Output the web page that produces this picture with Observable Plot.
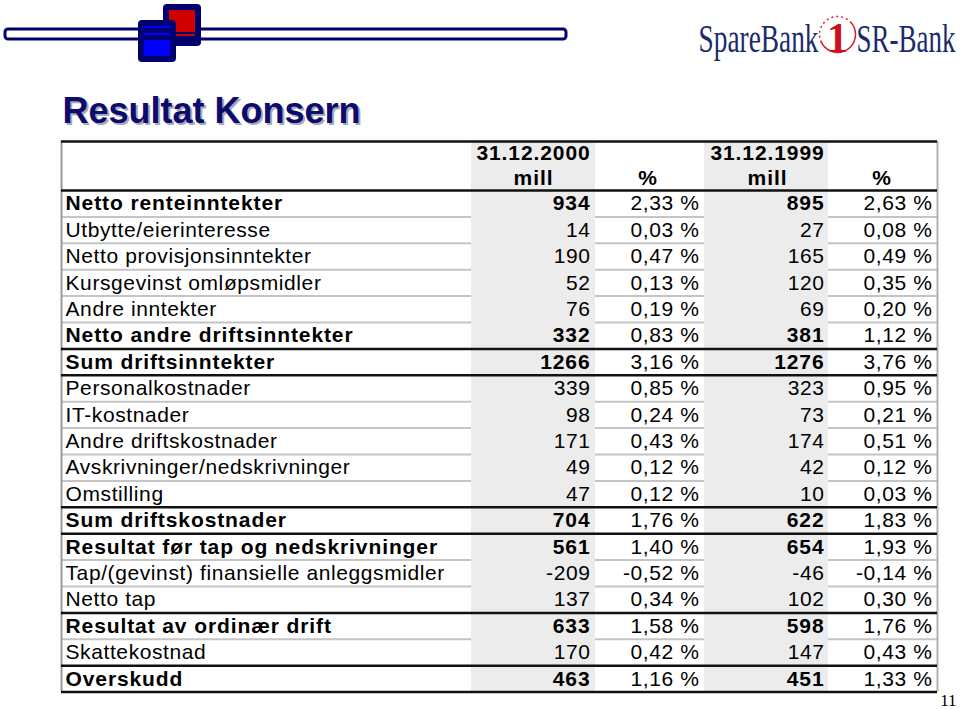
<!DOCTYPE html>
<html><head><meta charset="utf-8">
<script src="https://cdn.jsdelivr.net/npm/d3@7"></script>
<script src="https://cdn.jsdelivr.net/npm/@observablehq/plot@0.6"></script>
<style>
body{margin:0;background:#fff} svg{display:block}
#chart g[font-size="21"] text{letter-spacing:0.6px}
#chart g[font-size="21"][font-weight="bold"] text{letter-spacing:0.9px}
</style>
</head><body><div id="chart"></div>
<script>
// ---- data ----
const title = "Resultat Konsern";
const periods = ["31.12.2000", "31.12.1999"];
const unitMill = "mill";
const unitPct = "%";
const labels = [
  "Netto renteinntekter", "Utbytte/eierinteresse", "Netto provisjonsinntekter",
  "Kursgevinst omløpsmidler", "Andre inntekter", "Netto andre driftsinntekter",
  "Sum driftsinntekter", "Personalkostnader", "IT-kostnader", "Andre driftskostnader",
  "Avskrivninger/nedskrivninger", "Omstilling", "Sum driftskostnader",
  "Resultat før tap og nedskrivninger", "Tap/(gevinst) finansielle anleggsmidler",
  "Netto tap", "Resultat av ordinær drift", "Skattekostnad", "Overskudd"
];
const mill2000 = [934, 14, 190, 52, 76, 332, 1266, 339, 98, 171, 49, 47, 704, 561, -209, 137, 633, 170, 463];
const pct2000  = [2.33, 0.03, 0.47, 0.13, 0.19, 0.83, 3.16, 0.85, 0.24, 0.43, 0.12, 0.12, 1.76, 1.40, -0.52, 0.34, 1.58, 0.42, 1.16];
const mill1999 = [895, 27, 165, 120, 69, 381, 1276, 323, 73, 174, 42, 10, 622, 654, -46, 102, 598, 147, 451];
const pct1999  = [2.63, 0.08, 0.49, 0.35, 0.20, 1.12, 3.76, 0.95, 0.21, 0.51, 0.12, 0.03, 1.83, 1.93, -0.14, 0.30, 1.76, 0.43, 1.33];
const boldRows = ["Netto renteinntekter", "Netto andre driftsinntekter", "Sum driftsinntekter",
  "Sum driftskostnader", "Resultat før tap og nedskrivninger", "Resultat av ordinær drift", "Overskudd"];
// row boundaries drawn as heavy rules (index of row below the rule)
const heavyRules = [0, 6, 7, 12, 13, 16, 18, 19];
const logoWords = ["SpareBank", "1", "SR-Bank"];
const pageNumber = "11";

// ---- layout ----
const W = 960, H = 709;
const FONT = "'Liberation Sans', Arial, sans-serif";
const FS = 21;
const tTop = 141, tBody = 190, rowH = 26.4, tLeft = 61, tRight = 937;
const col = {label: [61, 471], m2000: [471, 595], p2000: [595, 704], m1999: [704, 828], p1999: [828, 937]};
const tBottom = tBody + labels.length * rowH;
const rowMid = i => tBody + (i + 0.5) * rowH;
const rowTop = i => tBody + i * rowH;
const pctFmt = v => v.toFixed(2).replace(".", ",") + " %";

const rows = labels.map((label, i) => ({
  label, i, bold: boldRows.includes(label),
  m2000: mill2000[i], p2000: pct2000[i], m1999: mill1999[i], p1999: pct1999[i]
}));

const greyCols = [col.m2000, col.m1999].map(([a, b]) => ({x1: a, x2: b, y1: tTop + 1, y2: tBottom}));
const lightRules = [];
for (let k = 1; k < labels.length; k++) {
  if (heavyRules.includes(k)) continue;
  for (const c of [col.label, col.p2000, col.p1999]) lightRules.push({y: rowTop(k), x1: c[0], x2: c[1]});
}
const darkRules = heavyRules.map(k => ({y: rowTop(k)})).concat([{y: tTop}]);

const mid = c => (c[0] + c[1]) / 2;
const header = [
  {t: periods[0], x: mid(col.m2000), y: 153},
  {t: unitMill, x: mid(col.m2000), y: 178},
  {t: unitPct, x: mid(col.p2000) - 2, y: 178},
  {t: periods[1], x: mid(col.m1999) + 1, y: 153},
  {t: unitMill, x: mid(col.m1999) + 1, y: 178},
  {t: unitPct, x: mid(col.p1999) - 1, y: 178}
];

// decorative logo shapes (top-left)
const NAVY = "#00006e";
const logoBar = [{x1: 5, x2: 566, y1: 29, y2: 39}];
const redOuter = [{x1: 163, x2: 201, y1: 4, y2: 46}];
const redInner = [{x1: 169, x2: 195, y1: 10, y2: 32}, {x1: 169, x2: 195, y1: 34, y2: 36}];
const blueOuter = [{x1: 138, x2: 176, y1: 20, y2: 62}];
const blueInner = [{x1: 144, x2: 170, y1: 26, y2: 28}, {x1: 144, x2: 170, y1: 33, y2: 35}, {x1: 144, x2: 170, y1: 40, y2: 56}];

const SERIF = "'Liberation Serif', 'DejaVu Serif', serif";
const plot = Plot.plot({
  width: W, height: H, margin: 0,
  x: {domain: [0, W], range: [0, W], axis: null},
  y: {domain: [0, H], range: [0, H], axis: null},
  style: {fontFamily: FONT, background: "white"},
  marks: [
    Plot.rect(logoBar, {x1: "x1", x2: "x2", y1: "y1", y2: "y2", fill: "white", stroke: NAVY, strokeWidth: 3, rx: 3}),
    Plot.rect(redOuter, {x1: "x1", x2: "x2", y1: "y1", y2: "y2", fill: NAVY, rx: 4}),
    Plot.rect(redInner, {x1: "x1", x2: "x2", y1: "y1", y2: "y2", fill: "#d00000"}),
    Plot.rect(blueOuter, {x1: "x1", x2: "x2", y1: "y1", y2: "y2", fill: NAVY, rx: 4}),
    Plot.rect(blueInner, {x1: "x1", x2: "x2", y1: "y1", y2: "y2", fill: "#0000ff"}),
    // right logo
    Plot.text([logoWords[0]], {x: 698, y: 51, text: d => d, textAnchor: "start", lineAnchor: "bottom",
      fontFamily: SERIF, fontSize: 40, fill: "#1c2b6b"}),
    Plot.dot([0], {x: 837, y: 34, r: 18, stroke: "#d0202e", strokeWidth: 1.5, fill: "none", strokeDasharray: "50 3 2 3 2 3 2 3 2 3 2 3 2 3 2 3 2 3 2 3"}),
    Plot.text([logoWords[1]], {x: 837, y: 51, text: d => d, textAnchor: "middle", lineAnchor: "bottom",
      fontFamily: SERIF, fontSize: 42, fontWeight: "bold", fill: "#cc1020"}),
    Plot.text([logoWords[2]], {x: 856, y: 51, text: d => d, textAnchor: "start", lineAnchor: "bottom",
      fontFamily: SERIF, fontSize: 40, fill: "#1c2b6b"}),
    // title with shadow
    Plot.text([title], {x: 64, y: 124, text: d => d, textAnchor: "start", lineAnchor: "bottom",
      fontSize: 36, fontWeight: "bold", fill: "#a8a8b8"}),
    Plot.text([title], {x: 62, y: 122, text: d => d, textAnchor: "start", lineAnchor: "bottom",
      fontSize: 36, fontWeight: "bold", fill: "#0c0c6c"}),
    // table fills and rules
    Plot.rect(greyCols, {x1: "x1", x2: "x2", y1: "y1", y2: "y2", fill: "#ececec"}),
    Plot.ruleY(lightRules, {y: "y", x1: "x1", x2: "x2", stroke: "#c4c4c4", strokeWidth: 2}),
    Plot.ruleX([tLeft], {y1: tTop, y2: tBottom, stroke: "#9a9a9a", strokeWidth: 2}),
    Plot.ruleX([tRight], {y1: tTop, y2: tBottom, stroke: "#b0b0b0", strokeWidth: 2}),
    Plot.ruleY(darkRules, {y: "y", x1: tLeft, x2: tRight, stroke: "#111", strokeWidth: 2.5}),
    // header
    Plot.text(header, {x: "x", y: "y", text: "t", textAnchor: "middle", fontSize: FS, fontWeight: "bold", fill: "#000"}),
    // labels
    Plot.text(rows.filter(d => !d.bold), {x: col.label[0] + 4, y: d => rowMid(d.i), text: "label", textAnchor: "start",
      fontSize: FS, fill: "#000"}),
    Plot.text(rows.filter(d => d.bold), {x: col.label[0] + 4, y: d => rowMid(d.i), text: "label", textAnchor: "start",
      fontSize: FS, fontWeight: "bold", fill: "#000"}),
    // mill values
    Plot.text(rows.filter(d => !d.bold), {x: col.m2000[1] - 5, y: d => rowMid(d.i), text: d => String(d.m2000), textAnchor: "end", fontSize: FS, fill: "#000"}),
    Plot.text(rows.filter(d => d.bold), {x: col.m2000[1] - 5, y: d => rowMid(d.i), text: d => String(d.m2000), textAnchor: "end", fontSize: FS, fontWeight: "bold", fill: "#000"}),
    Plot.text(rows.filter(d => !d.bold), {x: col.m1999[1] - 4, y: d => rowMid(d.i), text: d => String(d.m1999), textAnchor: "end", fontSize: FS, fill: "#000"}),
    Plot.text(rows.filter(d => d.bold), {x: col.m1999[1] - 4, y: d => rowMid(d.i), text: d => String(d.m1999), textAnchor: "end", fontSize: FS, fontWeight: "bold", fill: "#000"}),
    // pct values
    Plot.text(rows, {x: col.p2000[1] - 5, y: d => rowMid(d.i), text: d => pctFmt(d.p2000), textAnchor: "end", fontSize: FS, fill: "#000"}),
    Plot.text(rows, {x: col.p1999[1] - 5, y: d => rowMid(d.i), text: d => pctFmt(d.p1999), textAnchor: "end", fontSize: FS, fill: "#000"}),
    // page number
    Plot.text([pageNumber], {x: 956, y: 705, text: d => d, textAnchor: "end", lineAnchor: "bottom",
      fontFamily: SERIF, fontSize: 17, fill: "#000"})
  ]
});
document.getElementById("chart").appendChild(plot);
// condense the serif logo words to the logo's proportions
const logoLen = {"SpareBank": 120, "SR-Bank": 99};
plot.querySelectorAll("text").forEach(t => {
  const len = logoLen[t.textContent];
  if (len) {
    t.setAttribute("textLength", len);
    t.setAttribute("lengthAdjust", "spacingAndGlyphs");
  }
});
</script></body></html>
